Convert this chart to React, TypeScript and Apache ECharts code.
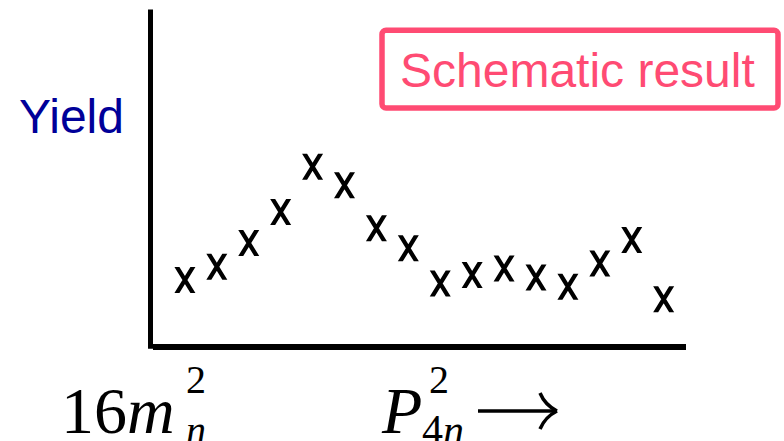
import React, { useEffect, useRef } from "react";
import * as echarts from "echarts";

// Bin positions along P^2 (arbitrary units) and the schematic yield per bin
const binPositions = [1, 2, 3, 4, 5, 6, 7, 8, 9, 10, 11, 12, 13, 14, 15, 16];
const yieldValues = [1.98, 2.38, 3.09, 4.02, 5.37, 4.82, 3.53, 2.93, 1.88, 2.13, 2.33, 2.06, 1.78, 2.48, 3.18, 1.41];

const yAxisTitle = "Yield";
const noteText = "Schematic result";

// "x" glyph used as the marker
const crossSymbol = "path://M0,0 L5,0 L21,26 L16,26 Z M16,0 L21,0 L5,26 L0,26 Z";

const pink = "#FF4B73";
const serif = "'Liberation Serif', 'Times New Roman', serif";
const sans = "'Liberation Sans', Arial, sans-serif";

export default function App() {
  const ref = useRef<HTMLDivElement>(null);

  useEffect(() => {
    if (!ref.current) return;
    const chart = echarts.init(ref.current, undefined, { renderer: "svg" });

    const txt = (x: number, y: number, text: string, size: number, family: string, fill: string, italic = false) => ({
      type: "text",
      x,
      y,
      silent: true,
      style: {
        text,
        fill,
        fontSize: size,
        fontFamily: family,
        fontStyle: italic ? "italic" : "normal",
        align: "left",
        verticalAlign: "middle",
        textAlign: "left",
        textVerticalAlign: "middle",
      },
    });

    chart.setOption({
      animation: false,
      backgroundColor: "#ffffff",
      grid: { left: 153, right: 98, top: 12, bottom: 94.7 },
      xAxis: {
        type: "value",
        min: 0,
        max: 16.7,
        axisLine: { show: true, onZero: false, lineStyle: { color: "#000", width: 6, cap: "butt" } },
        axisTick: { show: false },
        axisLabel: { show: false },
        splitLine: { show: false },
      },
      yAxis: {
        type: "value",
        min: 0,
        max: 10,
        offset: 2.5,
        axisLine: { show: true, onZero: false, lineStyle: { color: "#000", width: 5, cap: "square" } },
        axisTick: { show: false },
        axisLabel: { show: false },
        splitLine: { show: false },
      },
      series: [
        {
          type: "scatter",
          data: binPositions.map((x, i) => [x, yieldValues[i]]),
          symbol: crossSymbol,
          symbolSize: [21, 26],
          itemStyle: { color: "#000", opacity: 1 },
          emphasis: { disabled: true },
        },
      ],
      graphic: [
        txt(19, 116.5, yAxisTitle, 48, sans, "#000099"),
        {
          type: "rect",
          shape: { x: 382, y: 30.3, width: 396, height: 77.7, r: 4 },
          style: { fill: "#fff", stroke: pink, lineWidth: 5.5 },
          silent: true,
        },
        txt(400, 70.5, noteText, 48, sans, pink),
        // 16 m_n^2
        {
          type: "text",
          x: 61,
          y: 410,
          silent: true,
          style: {
            text: "{a|16}{b|m}",
            fill: "#000",
            align: "left",
            verticalAlign: "middle",
            rich: {
              a: { fontSize: 66, fontFamily: serif, fill: "#000" },
              b: { fontSize: 66, fontFamily: serif, fontStyle: "italic", fill: "#000" },
            },
          },
        },
        txt(186, 379.5, "2", 40, serif, "#000"),
        txt(186, 430, "n", 40, serif, "#000", true),
        // P_{4n}^2
        txt(382, 410, "P", 66, serif, "#000", true),
        txt(429, 379.5, "2", 40, serif, "#000"),
        {
          type: "text",
          x: 422,
          y: 430,
          silent: true,
          style: {
            text: "{a|4}{b|n}",
            fill: "#000",
            align: "left",
            verticalAlign: "middle",
            rich: {
              a: { fontSize: 42, fontFamily: serif, fill: "#000" },
              b: { fontSize: 42, fontFamily: serif, fontStyle: "italic", fill: "#000" },
            },
          },
        },
        // arrow
        {
          type: "line",
          shape: { x1: 478, y1: 411, x2: 554, y2: 411 },
          style: { stroke: "#000", lineWidth: 3.5 },
          silent: true,
        },
        {
          type: "bezierCurve",
          shape: { x1: 557, y1: 411, cpx1: 545, cpy1: 405, x2: 540, y2: 393 },
          style: { stroke: "#000", lineWidth: 3.5, fill: "none" },
          silent: true,
        },
        {
          type: "bezierCurve",
          shape: { x1: 557, y1: 411, cpx1: 545, cpy1: 417, x2: 540, y2: 429 },
          style: { stroke: "#000", lineWidth: 3.5, fill: "none" },
          silent: true,
        },
      ],
    });

    return () => chart.dispose();
  }, []);

  return <div ref={ref} style={{ position: "fixed", left: 0, top: 0, width: 784, height: 441 }} />;
}
